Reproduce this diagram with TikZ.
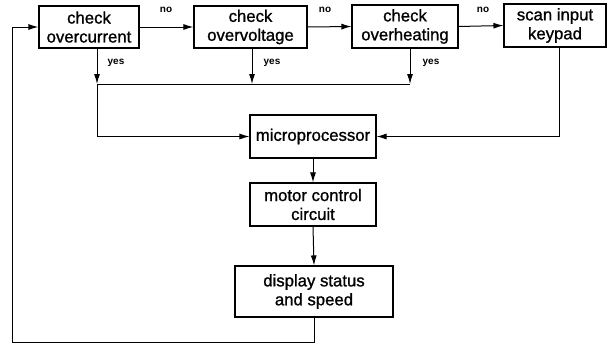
\documentclass[tikz,border=0pt]{standalone}
\usepackage{fontspec}
\setmainfont{Liberation Sans}
\newfontfamily\boxfont[FakeBold=1.1]{Liberation Sans}
\usetikzlibrary{arrows.meta}
\tikzset{
  blk/.style={draw, line width=1.1bp, inner sep=0pt, align=center,
    font=\boxfont\fontsize{16.8}{19}\selectfont},
  arr/.style={line width=1bp, -{Latex[length=10bp,width=6bp]}},
  ln/.style={line width=1bp},
  lbl/.style={inner sep=0pt, font=\bfseries\fontsize{10}{11}\selectfont}
}
\begin{document}
\begin{tikzpicture}[x=1bp,y=-1bp]
\useasboundingbox (0,0) rectangle (608,345);
% boxes
\node[blk, minimum width=100bp, minimum height=42bp] (b1) at (89,27) {check\\overcurrent};
\node[blk, minimum width=113bp, minimum height=42bp] (b2) at (250.5,27) {check\\overvoltage};
\node[blk, minimum width=106bp, minimum height=43bp] (b3) at (405,26.5) {check\\overheating};
\node[blk, minimum width=102bp, minimum height=43bp] (b4) at (555,25.5) {scan input\\keypad};
\node[blk, minimum width=126bp, minimum height=43bp] (mp) at (313,136.5) {microprocessor};
\node[blk, minimum width=126bp, minimum height=43bp] (mc) at (313,204.5) {motor control\\circuit};
\node[blk, minimum width=158bp, minimum height=51bp] (ds) at (314,291.5) {display status\\and speed};
% "no" chain
\draw[arr] (b1.east) -- (b2.west);
\draw[arr] (b2.east) -- (b3.west);
\draw[arr] (b3.east) -- (b4.west);
\node[lbl] (n1) at (166,10) {no};
\node[lbl] (n2) at (325,10) {no};
\node[lbl] (n3) at (483,10) {no};
% "yes" branches
\coordinate (j1) at (97,84);
\coordinate (j2) at (252,84);
\coordinate (j3) at (410,84);
\draw[arr] (b1.south -| j1) -- (j1);
\draw[arr] (b2.south -| j2) -- (j2);
\draw[arr] (b3.south -| j3) -- (j3);
\draw[ln] (j1) -- (j3);
\node[lbl] (y1) at (116,63) {yes};
\node[lbl] (y2) at (272,63) {yes};
\node[lbl] (y3) at (431,63) {yes};
% into microprocessor
\draw[arr] (j1) |- (mp.west);
\coordinate (k) at (559,47);
\draw[arr] (b4.south -| k) |- (mp.east);
% down the chain
\draw[arr] (mp.south) -- (mc.north);
\draw[arr] (mc.south) -- (ds.north);
% feedback loop
\coordinate (r1) at (12,342);
\draw[arr] (ds.south) |- (r1) |- (b1.west);
\end{tikzpicture}
\end{document}
